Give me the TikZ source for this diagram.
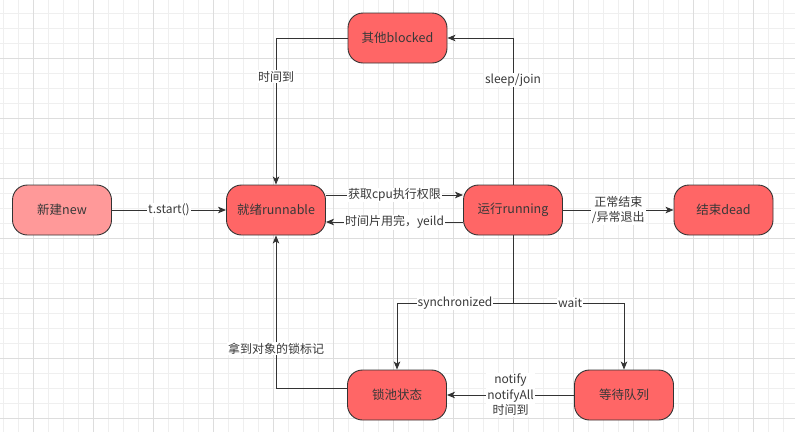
\documentclass[tikz,border=0pt]{standalone}
\usepackage{fontspec}
\setmainfont{Noto Sans CJK SC}
\usetikzlibrary{arrows.meta}
\definecolor{gridminor}{HTML}{EFEFEF}
\definecolor{gridmajor}{HTML}{DDDDDD}
\definecolor{statefill}{HTML}{FF6666}
\definecolor{newfill}{HTML}{FF9999}
\definecolor{edgecol}{HTML}{333333}
\definecolor{txtcol}{HTML}{383838}
\tikzset{
  state/.style={draw=edgecol, line width=0.9pt, fill=statefill, rounded corners=15pt,
    minimum width=99pt, minimum height=50pt, inner sep=0pt, text=txtcol,
    font=\fontsize{12.5}{14}\selectfont},
  arr/.style={draw=edgecol, line width=0.9pt, -{Stealth[length=8pt,width=6.5pt,inset=2pt]}},
  plain/.style={draw=edgecol, line width=0.9pt},
  lbl/.style={fill=white, text=txtcol, inner sep=1pt, align=center,
    font=\fontsize{12}{15.5}\selectfont},
}
\begin{document}
\begin{tikzpicture}[x=1pt,y=-1pt]
  % page and background grid
  \fill[white] (0,0) rectangle (795,432);
  \useasboundingbox (0,0) rectangle (795,432);
  \foreach \i in {0,...,53} \draw[gridminor, line width=0.8pt] ({3.33+15*\i},0) -- ({3.33+15*\i},432);
  \foreach \i in {0,...,28} \draw[gridminor, line width=0.8pt] (0,{13+15*\i}) -- (795,{13+15*\i});
  \foreach \i in {0,...,12} \draw[gridmajor, line width=0.8pt] ({33.33+60*\i},0) -- ({33.33+60*\i},432);
  \foreach \i in {0,...,6} \draw[gridmajor, line width=0.8pt] (0,{58+60*\i}) -- (795,{58+60*\i});

  % thread states
  \node[state, fill=newfill] (new) at (62,210) {新建new};
  \node[state] (runnable) at (276,210) {就绪runnable};
  \node[state] (running) at (513,210) {运行running};
  \node[state] (dead) at (723.5,210) {结束dead};
  \node[state] (blocked) at (397.5,38) {其他blocked};
  \node[state] (lockpool) at (397,395) {锁池状态};
  \node[state] (waiting) at (624,395) {等待队列};
  \coordinate (split) at (513,303);

  % transitions
  \draw[arr] (new) -- node[lbl]{t.start()} (runnable);
  \draw[arr] ([yshift=15pt]runnable.east) -- node[lbl]{获取cpu执行权限} ([yshift=15pt]running.west);
  \draw[arr] ([yshift=-12pt]running.west) -- node[lbl]{时间片用完，yeild} ([yshift=-12pt]runnable.east);
  \draw[arr] (running.east) -- node[lbl]{正常结束\\/异常退出} (dead.west);
  \draw[arr] (running.north) |- node[lbl, pos=0.357]{sleep/join} (blocked.east);
  \draw[arr] (blocked.west) -| node[lbl, pos=0.633]{时间到} (runnable.north);
  \draw[plain] (running.south) -- (split);
  \draw[arr] (split) -| node[lbl, pos=0.25]{synchronized} (lockpool.north);
  \draw[arr] (split) -| node[lbl, pos=0.257]{wait} (waiting.north);
  \draw[arr] (waiting.west) -- node[lbl]{notify\\notifyAll\\时间到} (lockpool.east);
  \draw[arr] ([yshift=7pt]lockpool.west) -| node[lbl, pos=0.63]{拿到对象的锁标记} (runnable.south);
\end{tikzpicture}
\end{document}
